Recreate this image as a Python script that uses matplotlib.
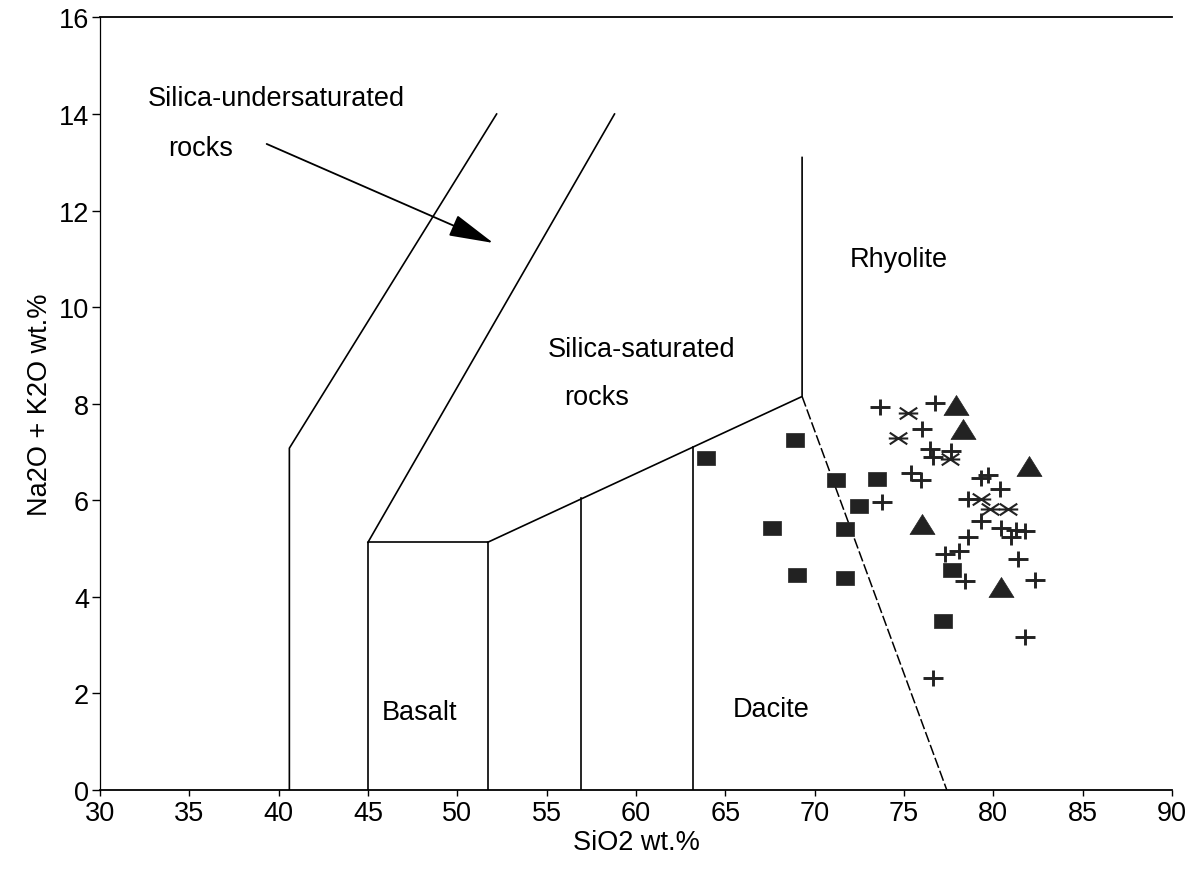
import matplotlib
matplotlib.use("Agg")
import matplotlib.pyplot as plt
from matplotlib.path import Path

"""
TAS style diagram (SiO2 vs Na2O+K2O) with field boundaries and sample points.
"""

plt.rcParams['font.family'] = ['Liberation Sans', 'DejaVu Sans']

# --- sample data (SiO2, Na2O+K2O) ---
square_sio2 = [63.9, 68.9, 67.6, 69.0, 71.2, 72.5, 71.7, 71.7, 73.5, 77.7, 77.2]
square_alk = [6.87, 7.24, 5.42, 4.45, 6.41, 5.88, 5.41, 4.39, 6.44, 4.56, 3.50]

triangle_sio2 = [77.9, 78.3, 82.0, 76.0, 80.45]
triangle_alk = [7.97, 7.48, 6.71, 5.50, 4.20]

cross_sio2 = [73.65, 76.73, 76.02, 76.45, 77.66, 76.6, 75.4, 75.94, 73.8,
              79.3, 79.7, 80.36, 78.59, 79.34, 80.45, 81.3, 81.76, 81.0,
              78.59, 77.29, 78.1, 78.4, 81.38, 82.32, 81.8, 76.63]
cross_alk = [7.94, 8.02, 7.48, 7.06, 7.03, 6.90, 6.57, 6.43, 5.97,
             6.46, 6.53, 6.23, 6.02, 5.57, 5.43, 5.39, 5.37, 5.23,
             5.25, 4.88, 4.95, 4.33, 4.78, 4.35, 3.16, 2.31]

star_sio2 = [75.23, 74.67, 77.6, 79.34, 79.8, 80.83]
star_alk = [7.81, 7.30, 6.85, 6.02, 5.81, 5.81]

# --- field boundaries (polylines) ---
undersat_x = [40.6, 40.6, 52.2]
undersat_y = [0, 7.08, 14.0]
basalt_x = [51.7, 51.7, 45.0, 45.0]
basalt_y = [0, 5.13, 5.13, 0]
sat_x = [45.0, 58.8]
sat_y = [5.13, 14.0]
upper_x = [51.7, 69.3, 69.3]
upper_y = [5.13, 8.15, 13.1]
split1_x = [56.9, 56.9]
split1_y = [0, 6.04]
split2_x = [63.2, 63.2]
split2_y = [0, 7.11]
rhyolite_x = [69.3, 77.4]
rhyolite_y = [8.15, 0]

x_ticks = list(range(30, 91, 5))
y_ticks = list(range(0, 17, 2))


def make_markers():
    M, L = Path.MOVETO, Path.LINETO
    rect = Path([(-1, -0.78), (1, -0.78), (1, 0.78), (-1, 0.78), (-1, -0.78)],
                [M, L, L, L, Path.CLOSEPOLY])
    tri = Path([(0, 0.8), (-1, -0.8), (1, -0.8), (0, 0.8)],
               [M, L, L, Path.CLOSEPOLY])
    plus = Path([(-1, 0), (1, 0), (0, -0.8), (0, 0.8)], [M, L, M, L])
    star = Path([(-1, 0), (1, 0), (-0.9, -0.6), (0.9, 0.6), (-0.9, 0.6), (0.9, -0.6)],
                [M, L, M, L, M, L])
    return rect, tri, plus, star


def main():
    fig = plt.figure(figsize=(11.99, 8.70), dpi=100)
    ax = fig.add_axes([0.0834, 0.0908, 0.894, 0.888])

    # boundaries
    kw = dict(color='black', lw=1.2)
    ax.plot(undersat_x, undersat_y, **kw)
    ax.plot(basalt_x, basalt_y, **kw)
    ax.plot(sat_x, sat_y, **kw)
    ax.plot(upper_x, upper_y, **kw)
    ax.plot(split1_x, split1_y, **kw)
    ax.plot(split2_x, split2_y, **kw)
    ax.plot(rhyolite_x, rhyolite_y, color='black', lw=1.1, linestyle=(0, (7, 2)))

    rect, tri, plus, star = make_markers()
    ax.plot(square_sio2, square_alk, linestyle='none', marker=rect, ms=13,
            mfc='#222222', mec='#222222', mew=0.5)
    ax.plot(triangle_sio2, triangle_alk, linestyle='none', marker=tri, ms=18,
            mfc='#222222', mec='#222222', mew=0.5)
    ax.plot(cross_sio2, cross_alk, linestyle='none', marker=plus, ms=14,
            mfc='none', mec='#222222', mew=2.1)
    ax.plot(star_sio2, star_alk, linestyle='none', marker=star, ms=14,
            mfc='none', mec='#222222', mew=1.5)

    # labels
    fs = 19.5
    ax.text(32.7, 14.19, "Silica-undersaturated", fontsize=fs, va='baseline')
    ax.text(33.82, 13.16, "rocks", fontsize=fs, va='baseline')
    ax.text(55.07, 8.98, "Silica-saturated", fontsize=fs, va='baseline')
    ax.text(56.0, 8.0, "rocks", fontsize=fs, va='baseline')
    ax.text(71.97, 10.86, "Rhyolite", fontsize=fs, va='baseline')
    ax.text(45.78, 1.47, "Basalt", fontsize=fs, va='baseline')
    ax.text(65.42, 1.53, "Dacite", fontsize=fs, va='baseline')

    ax.annotate("", xy=(52.01, 11.33), xytext=(39.33, 13.38),
                arrowprops=dict(arrowstyle='-|>,head_length=1.4,head_width=0.35',
                                mutation_scale=20, color='black', lw=1.3,
                                shrinkA=0, shrinkB=0))

    ax.set_xlim(30, 90)
    ax.set_ylim(0, 16)
    ax.set_xticks(x_ticks)
    ax.set_yticks(y_ticks)
    ax.tick_params(axis='both', labelsize=fs, length=6, width=1.0)
    ax.tick_params(axis='x', pad=3, length=4)
    ax.tick_params(axis='y', pad=2)

    ax.spines['right'].set_visible(False)
    ax.spines['left'].set_linestyle((0, (5, 1)))
    ax.spines['left'].set_linewidth(0.9)
    ax.spines['bottom'].set_linewidth(1.3)
    ax.spines['top'].set_linewidth(1.3)

    ax.set_xlabel("SiO2 wt.%", fontsize=fs, labelpad=2)
    ax.set_ylabel("Na2O + K2O wt.%", fontsize=fs, labelpad=4)

    fig.savefig("out.png", dpi=100)


if __name__ == "__main__":
    main()
